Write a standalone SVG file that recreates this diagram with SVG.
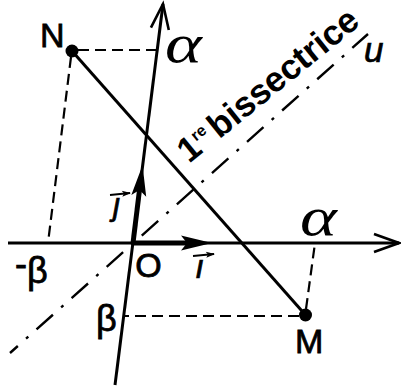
<svg xmlns="http://www.w3.org/2000/svg" width="401" height="392" viewBox="0 0 401 392">
<style>
.ax{stroke:#000;stroke-width:3;fill:none}
.vec{stroke:#000;stroke-width:5;fill:none}
.seg{stroke:#000;stroke-width:3;fill:none}
.dsh{stroke:#000;stroke-width:2.2;fill:none;stroke-dasharray:11 6}
.bis{stroke:#000;stroke-width:2.4;fill:none;stroke-dasharray:22 11 3 11;stroke-dashoffset:11.5}
.sm{stroke:#000;stroke-width:1.8;fill:none}
.lbl{font-family:"Liberation Sans","DejaVu Sans",sans-serif;font-size:34px;fill:#000;stroke:#000;stroke-width:0.8}
.gr{font-family:"Liberation Serif","DejaVu Serif",serif;font-style:italic;font-size:54px;fill:#000}
.it{font-family:"Liberation Sans","DejaVu Sans",sans-serif;font-style:italic;fill:#000;stroke:#000;stroke-width:0.7}
.bs{font-family:"Liberation Sans","DejaVu Sans",sans-serif;font-weight:bold;font-size:35px;fill:#000}
</style>
<defs>
<marker id="open" markerUnits="userSpaceOnUse" markerWidth="30" markerHeight="24" viewBox="-28 -12 30 24" refX="0" refY="0" orient="auto" overflow="visible">
<path d="M-25,-9 L0,0 L-25,9" stroke="#000" stroke-width="2.6" fill="none"/>
</marker>
<marker id="thick" markerUnits="userSpaceOnUse" markerWidth="34" markerHeight="20" viewBox="-8 -10 34 20" refX="0" refY="0" orient="auto" overflow="visible">
<path d="M-6,-7.5 L25,0 L-6,7.5 L0,0 Z" fill="#000"/>
</marker>
<marker id="small" markerUnits="userSpaceOnUse" markerWidth="12" markerHeight="8" viewBox="-10 -4 12 8" refX="0" refY="0" orient="auto" overflow="visible">
<path d="M-8,-3 L1,0 L-8,3 L-6,0 Z" fill="#000"/>
</marker>
</defs>
<rect width="401" height="392" fill="#fff"/>

<g id="axes">
<line class="ax" x1="8" y1="243" x2="399" y2="243" marker-end="url(#open)"/>
<line class="ax" x1="115" y1="385" x2="163" y2="4" marker-end="url(#open)"/>
</g>

<g id="bisector">
<line class="bis" x1="10" y1="353" x2="368" y2="34"/>
</g>

<g id="vectors">
<line class="vec" x1="133" y1="243" x2="187" y2="243" marker-end="url(#thick)"/>
<line class="vec" x1="133" y1="243" x2="139.5" y2="190" marker-end="url(#thick)"/>
</g>

<g id="connectors">
<line class="seg" x1="72" y1="51" x2="305.5" y2="315"/>
<line class="dsh" x1="78" y1="50" x2="157" y2="50"/>
<line class="dsh" x1="71" y1="57" x2="48" y2="243"/>
<line class="dsh" x1="299" y1="316" x2="124" y2="316"/>
<line class="dsh" x1="306" y1="309" x2="315" y2="243"/>
</g>

<g id="N">
<circle cx="72" cy="51" r="6.5" fill="#000"/>
<text class="lbl" x="40" y="47">N</text>
</g>

<g id="M">
<circle cx="305.5" cy="315" r="6.5" fill="#000"/>
<text class="lbl" x="295" y="353">M</text>
</g>

<g id="O">
<text class="lbl" x="148.5" y="277" text-anchor="middle">O</text>
</g>

<g id="labels">
<text class="gr" transform="translate(165,62) scale(1.3,1)">α</text>
<text class="gr" transform="translate(300,235) scale(1.3,1)">α</text>
<text class="lbl" style="font-size:36px" x="15" y="283"><tspan dy="-7">-</tspan><tspan dy="7">β</tspan></text>
<text class="lbl" style="font-size:36px" x="96" y="331">β</text>
<text class="it" style="font-size:35px" x="364" y="62">u</text>
<line class="sm" x1="110" y1="195" x2="130" y2="193" marker-end="url(#small)"/>
<text class="it" style="font-size:31px" x="113" y="215">ȷ</text>
<line class="sm" x1="193" y1="256" x2="214" y2="254" marker-end="url(#small)"/>
<text class="it" style="font-size:33px" x="195" y="278">ı</text>
<text class="bs" transform="translate(189,164) rotate(-39)">1<tspan style="font-size:16px" dy="-13">re </tspan><tspan dy="13">bissectrice</tspan></text>
</g>
</svg>
